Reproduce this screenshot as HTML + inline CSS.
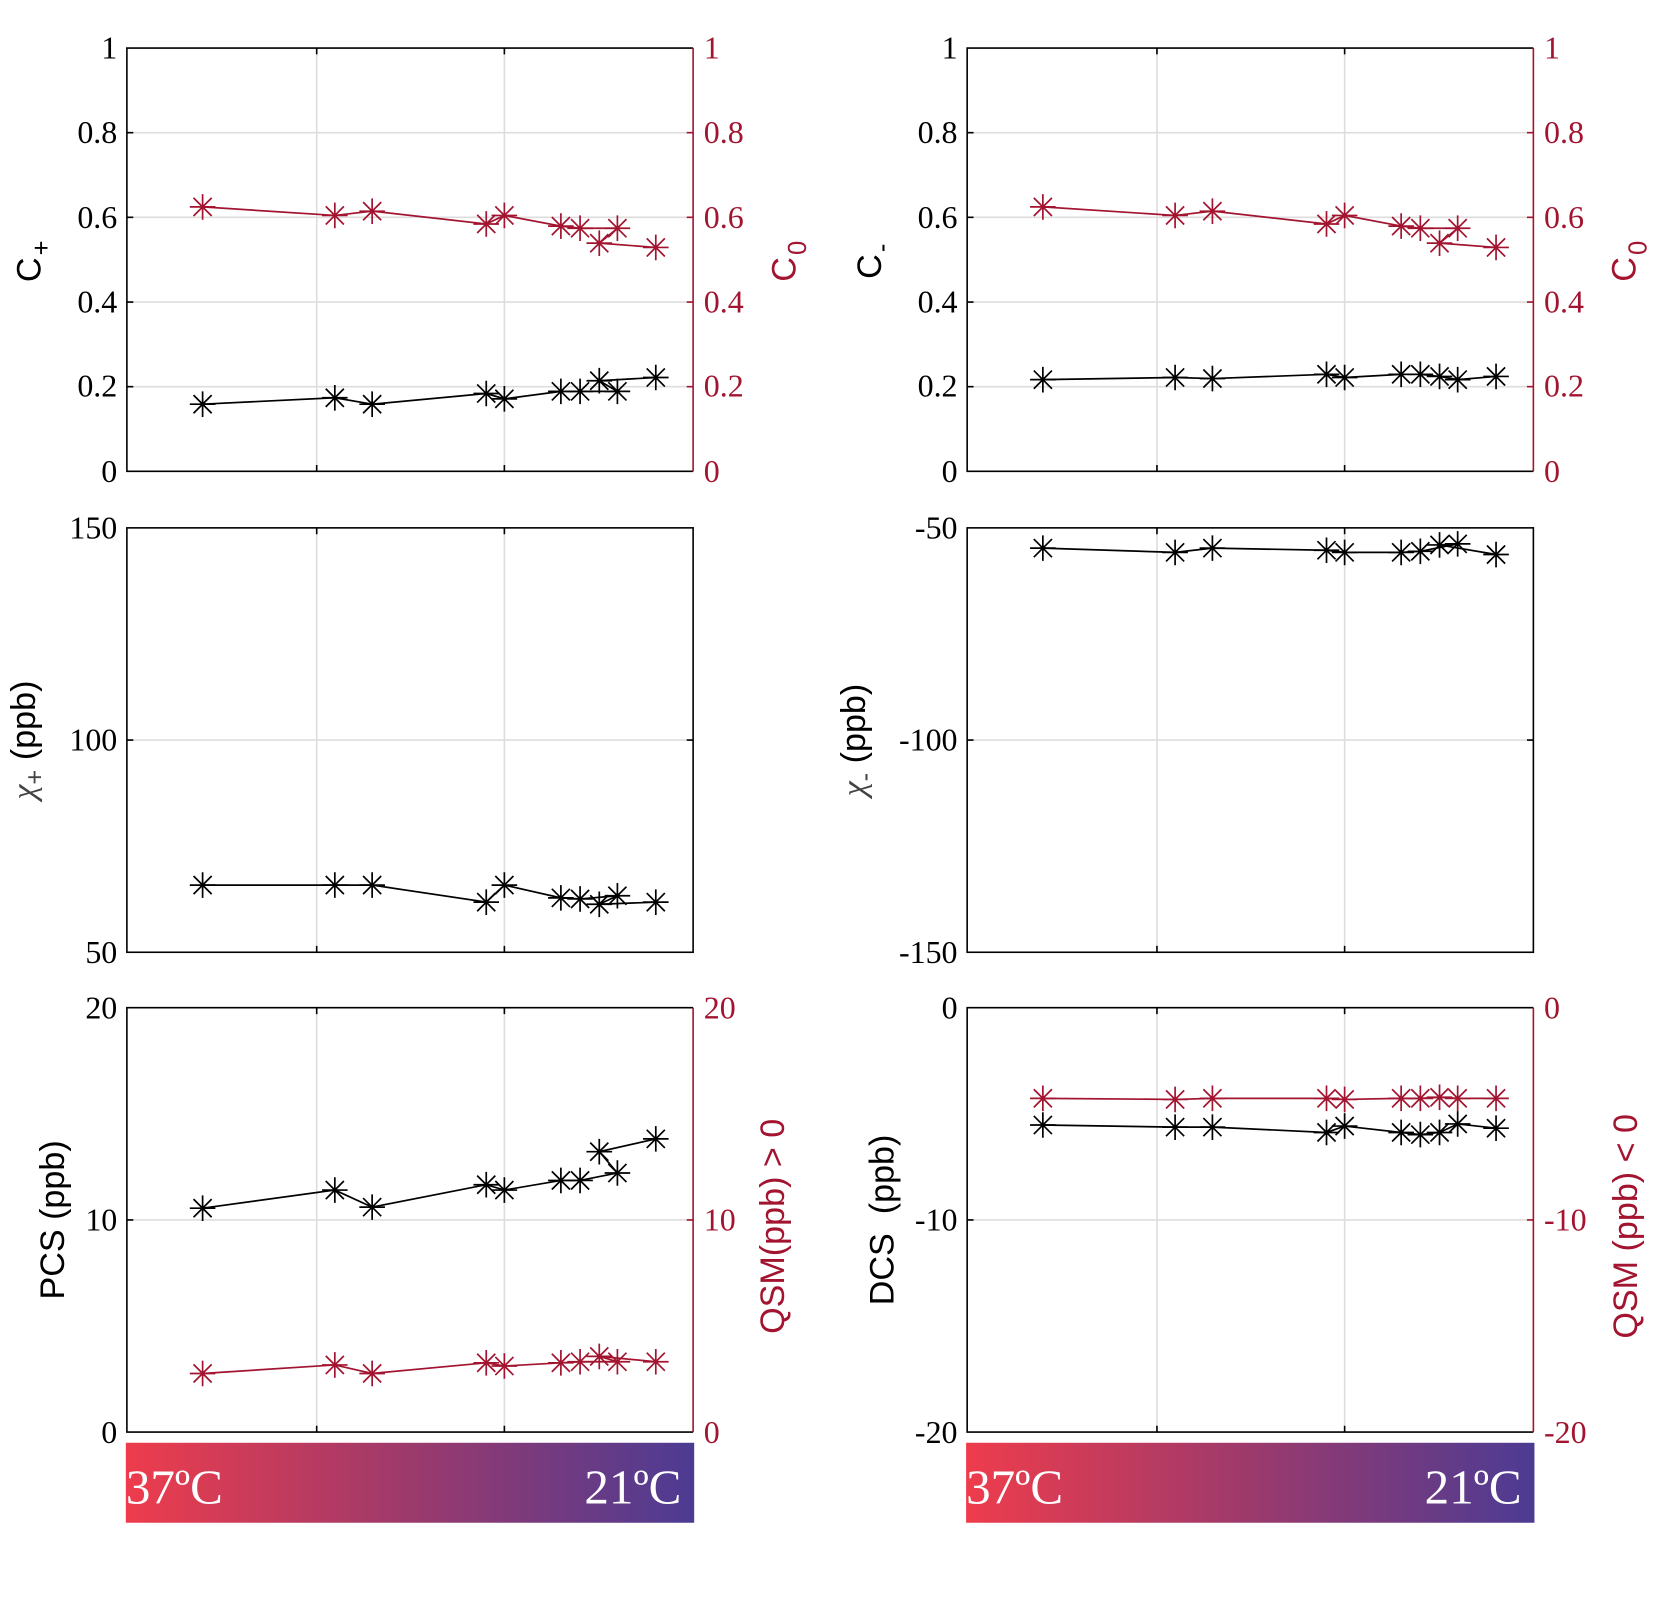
<!DOCTYPE html>
<html><head><meta charset="utf-8"><style>
html,body{margin:0;padding:0;background:#fff;}
svg{display:block;}
.tk{font-family:"Liberation Serif",serif;font-size:30px;}
.lab{font-family:"Liberation Sans",sans-serif;font-size:32px;}
.cb{font-family:"Liberation Serif",serif;font-size:46px;fill:#fff;}
</style></head><body>
<svg width="1672" height="1597" viewBox="0 0 1568 1497.6" xmlns="http://www.w3.org/2000/svg">
<defs>
<linearGradient id="g" x1="0" x2="1" y1="0" y2="0">
<stop offset="0" stop-color="#ee3c4c"/><stop offset="0.5" stop-color="#9c3a6c"/><stop offset="1" stop-color="#4c3b93"/>
</linearGradient>
<marker id="mk" markerUnits="userSpaceOnUse" markerWidth="30" markerHeight="30" refX="15" refY="15" overflow="visible">
<path d="M15 3V27M3 15H27M6.5 6.5L23.5 23.5M23.5 6.5L6.5 23.5" stroke="#000" stroke-width="1.6"/>
</marker>
<marker id="mr" markerUnits="userSpaceOnUse" markerWidth="30" markerHeight="30" refX="15" refY="15" overflow="visible">
<path d="M15 3V27M3 15H27M6.5 6.5L23.5 23.5M23.5 6.5L6.5 23.5" stroke="#a2142f" stroke-width="1.6"/>
</marker>
</defs>
<g fill="none" stroke="#ddd" stroke-width="1.5">
<path d="M297 45V442M473 45V442M297 495V893M473 495V893M297 945V1343M473 945V1343"/>
<path d="M1085 45V442M1261 45V442M1085 495V893M1261 495V893M1085 945V1343M1261 945V1343"/>
<path d="M119 124.4H650M119 203.8H650M119 283.2H650M119 362.6H650"/>
<path d="M907 124.4H1438M907 203.8H1438M907 283.2H1438M907 362.6H1438"/>
<path d="M119 694H650M907 694H1438M119 1144H650M907 1144H1438"/>
</g>
<g fill="none" stroke-width="1.5">
<path d="M650 45H119V442H650" stroke="#000"/><path d="M650 45V442" stroke="#a2142f"/>
<path d="M1438 45H907V442H1438" stroke="#000"/><path d="M1438 45V442" stroke="#a2142f"/>
<rect x="119" y="495" width="531" height="398" stroke="#000"/>
<rect x="907" y="495" width="531" height="398" stroke="#000"/>
<path d="M650 945H119V1343H650" stroke="#000"/><path d="M650 945V1343" stroke="#a2142f"/>
<path d="M1438 945H907V1343H1438" stroke="#000"/><path d="M1438 945V1343" stroke="#a2142f"/>
<path d="M297 442v-6M473 442v-6M297 45v6M473 45v6M1085 442v-6M1261 442v-6M1085 45v6M1261 45v6M297 893v-6M473 893v-6M297 495v6M473 495v6M1085 893v-6M1261 893v-6M1085 495v6M1261 495v6M297 1343v-6M473 1343v-6M297 945v6M473 945v6M1085 1343v-6M1261 1343v-6M1085 945v6M1261 945v6" stroke="#000"/>
<path d="M119 124.4h6M119 203.8h6M119 283.2h6M119 362.6h6M907 124.4h6M907 203.8h6M907 283.2h6M907 362.6h6M119 694h6M650 694h-6M907 694h6M1438 694h-6M119 1144h6M907 1144h6" stroke="#000"/>
<path d="M650 124.4h-6M650 203.8h-6M650 283.2h-6M650 362.6h-6M1438 124.4h-6M1438 203.8h-6M1438 283.2h-6M1438 362.6h-6M650 1144h-6M1438 1144h-6" stroke="#a2142f"/>
</g>
<g class="tk" text-anchor="end" fill="#000">
<text x="110" y="55">1</text><text x="110" y="134">0.8</text><text x="110" y="214">0.6</text><text x="110" y="293">0.4</text><text x="110" y="372">0.2</text><text x="110" y="452">0</text>
<text x="898" y="55">1</text><text x="898" y="134">0.8</text><text x="898" y="214">0.6</text><text x="898" y="293">0.4</text><text x="898" y="372">0.2</text><text x="898" y="452">0</text>
<text x="110" y="505">150</text><text x="110" y="704">100</text><text x="110" y="903">50</text>
<text x="898" y="505">-50</text><text x="898" y="704">-100</text><text x="898" y="903">-150</text>
<text x="110" y="955">20</text><text x="110" y="1154">10</text><text x="110" y="1353">0</text>
<text x="898" y="955">0</text><text x="898" y="1154">-10</text><text x="898" y="1353">-20</text>
</g>
<g class="tk" fill="#a2142f">
<text x="660" y="55">1</text><text x="660" y="134">0.8</text><text x="660" y="214">0.6</text><text x="660" y="293">0.4</text><text x="660" y="372">0.2</text><text x="660" y="452">0</text>
<text x="1448" y="55">1</text><text x="1448" y="134">0.8</text><text x="1448" y="214">0.6</text><text x="1448" y="293">0.4</text><text x="1448" y="372">0.2</text><text x="1448" y="452">0</text>
<text x="660" y="955">20</text><text x="660" y="1154">10</text><text x="660" y="1353">0</text>
<text x="1448" y="955">0</text><text x="1448" y="1154">-10</text><text x="1448" y="1353">-20</text>
</g>
<text class="lab" transform="translate(38,245) rotate(-90)" text-anchor="middle">C<tspan font-size="24" dy="9" dx="2">+</tspan></text>
<text class="lab" transform="translate(826,245) rotate(-90)" text-anchor="middle">C<tspan font-size="24" dy="9" dx="2">-</tspan></text>
<text class="lab" fill="#a2142f" transform="translate(746,245) rotate(-90)" text-anchor="middle">C<tspan font-size="24" dy="10" dx="2">0</tspan></text>
<text class="lab" fill="#a2142f" transform="translate(1534,245) rotate(-90)" text-anchor="middle">C<tspan font-size="24" dy="10" dx="2">0</tspan></text>
<text class="lab" transform="translate(33,694) rotate(-90)" text-anchor="middle"><tspan font-family="Liberation Serif,serif" font-style="italic" fill="#444">χ</tspan><tspan font-size="24" dy="8" fill="#444">+</tspan><tspan dy="-8"> (ppb)</tspan></text>
<text class="lab" transform="translate(811,694) rotate(-90)" text-anchor="middle"><tspan font-family="Liberation Serif,serif" font-style="italic" fill="#444">χ</tspan><tspan font-size="24" dy="8" fill="#444">-</tspan><tspan dy="-8"> (ppb)</tspan></text>
<text class="lab" transform="translate(60,1144) rotate(-90)" text-anchor="middle">PCS (ppb)</text>
<text class="lab" transform="translate(838,1144) rotate(-90)" text-anchor="middle">DCS&#160;&#160;(ppb)</text>
<text class="lab" fill="#a2142f" transform="translate(735,1150) rotate(-90)" text-anchor="middle">QSM(ppb) &gt; 0</text>
<text class="lab" fill="#a2142f" transform="translate(1535,1150) rotate(-90)" text-anchor="middle">QSM (ppb) &lt; 0</text>
<g fill="none" stroke-width="1.6">
<polyline stroke="#a2142f" marker-start="url(#mr)" marker-mid="url(#mr)" marker-end="url(#mr)" points="190,194 314,202 349,198 456,210 473,202 526,212 544,214 579,214 562,228 615,232"/>
<polyline stroke="#000" marker-start="url(#mk)" marker-mid="url(#mk)" marker-end="url(#mk)" points="190,379 314,373 349,379 456,369 473,374 526,367 544,367 579,367 562,357 615,354"/>
<polyline stroke="#a2142f" marker-start="url(#mr)" marker-mid="url(#mr)" marker-end="url(#mr)" points="978,194 1102,202 1137,198 1244,210 1261,202 1314,212 1332,214 1367,214 1350,228 1403,232"/>
<polyline stroke="#000" marker-start="url(#mk)" marker-mid="url(#mk)" marker-end="url(#mk)" points="978,356 1102,354 1137,355 1244,351 1261,354 1314,351 1332,351 1350,353 1367,356 1403,353"/>
<polyline stroke="#000" marker-start="url(#mk)" marker-mid="url(#mk)" marker-end="url(#mk)" points="190,830 314,830 349,830 456,846 473,830 526,842 544,843 579,840 562,848 615,846"/>
<polyline stroke="#000" marker-start="url(#mk)" marker-mid="url(#mk)" marker-end="url(#mk)" points="978,514 1102,518 1137,514 1244,516 1261,518 1314,518 1332,517 1367,510 1350,511 1403,520"/>
<polyline stroke="#000" marker-start="url(#mk)" marker-mid="url(#mk)" marker-end="url(#mk)" points="190,1133 314,1116 349,1132 456,1111 473,1116 526,1107 544,1107 579,1100 562,1080 615,1068"/>
<polyline stroke="#a2142f" marker-start="url(#mr)" marker-mid="url(#mr)" marker-end="url(#mr)" points="190,1288 314,1280 349,1288 456,1278 473,1281 526,1278 544,1277 579,1277 562,1272 615,1277"/>
<polyline stroke="#a2142f" marker-start="url(#mr)" marker-mid="url(#mr)" marker-end="url(#mr)" points="978,1030 1102,1031 1137,1030 1244,1030 1261,1031 1314,1030 1332,1030 1350,1029 1367,1030 1403,1030"/>
<polyline stroke="#000" marker-start="url(#mk)" marker-mid="url(#mk)" marker-end="url(#mk)" points="978,1055 1102,1057 1137,1057 1244,1062 1261,1056 1314,1062 1332,1064 1350,1062 1367,1054 1403,1058"/>
</g>
<rect x="118" y="1353" width="533" height="75" fill="url(#g)"/>
<rect x="906" y="1353" width="533" height="75" fill="url(#g)"/>
<text class="cb" x="118" y="1410">37ºC</text><text class="cb" x="639" y="1410" text-anchor="end">21ºC</text>
<text class="cb" x="906" y="1410">37ºC</text><text class="cb" x="1427" y="1410" text-anchor="end">21ºC</text>
</svg>
</body></html>
